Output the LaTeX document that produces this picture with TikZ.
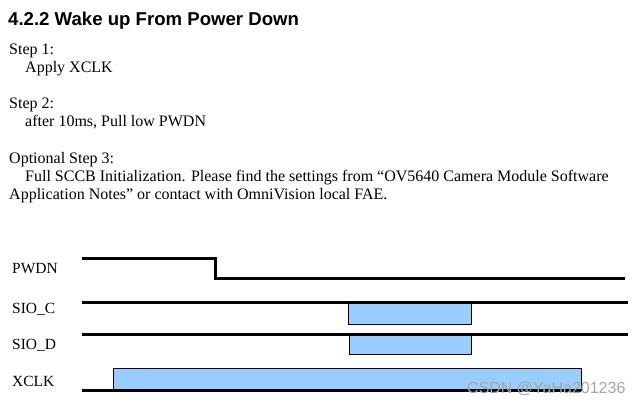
\documentclass[tikz,border=0pt]{standalone}
\usepackage{fontspec}
\setmainfont{Liberation Serif}
\newfontfamily\headfont{Liberation Sans}
\usetikzlibrary{positioning}
\definecolor{sigblue}{RGB}{153,204,255}
\definecolor{markgrey}{RGB}{165,165,165}
\tikzset{%
    txt/.style={anchor=base west, inner sep=0pt, font=\fontsize{16}{18}\selectfont},
    lbl/.style={anchor=base west, inner sep=0pt, font=\fontsize{15.5}{17}\selectfont},
    wave/.style={line width=3pt},
    busbox/.style={draw=black, line width=0.8pt, fill=sigblue}
}

\begin{document}
\begin{tikzpicture}[x=1pt,y=-1pt]
    \useasboundingbox (0,0) rectangle (640,403);
    \node[anchor=base west, inner sep=0pt, font=\headfont\bfseries\fontsize{18.6}{20}\selectfont] (title) at (8,26) {4.2.2 Wake up From Power Down};
    \node[txt] (s1) at (9,55) {Step 1:};
    \node[txt] (s1a) at (25,73) {Apply XCLK};
    \node[txt] (s2) at (9,109) {Step 2:};
    \node[txt] (s2a) at (25,127) {after 10ms, Pull low PWDN};
    \node[txt] (s3) at (9,164) {Optional Step 3:};
    \node[txt] (s3a) at (25,182) {Full SCCB Initialization. Please find the settings from “OV5640 Camera Module Software};
    \node[txt] (s3b) at (9,200) {Application Notes” or contact with OmniVision local FAE.};
    % signal names
    \node[lbl] (pwdn) at (12,274) {PWDN};
    \node[lbl] (sioc) at (12,314) {SIO\_C};
    \node[lbl] (siod) at (12,349) {SIO\_D};
    \node[lbl] (xclk) at (12,386) {XCLK};
    % waveforms
    \draw[busbox] (348,303) rectangle (471,324);
    \draw[busbox] (349,335) rectangle (471,354);
    \draw[busbox] (113,368) rectangle (581,390);
    \draw[wave] (82,259) -- (215,259) -- (215,279) -- (625,279);
    \draw[wave] (82,303) -- (628,303);
    \draw[wave] (82,335) -- (628,335);
    \draw[wave] (82,390) -- (581,390);
    \node[anchor=base west, inner sep=0pt, text=markgrey, font=\headfont\fontsize{16}{18}\selectfont] (mark) at (467,393) {CSDN @YaHa201236};
\end{tikzpicture}
\end{document}
